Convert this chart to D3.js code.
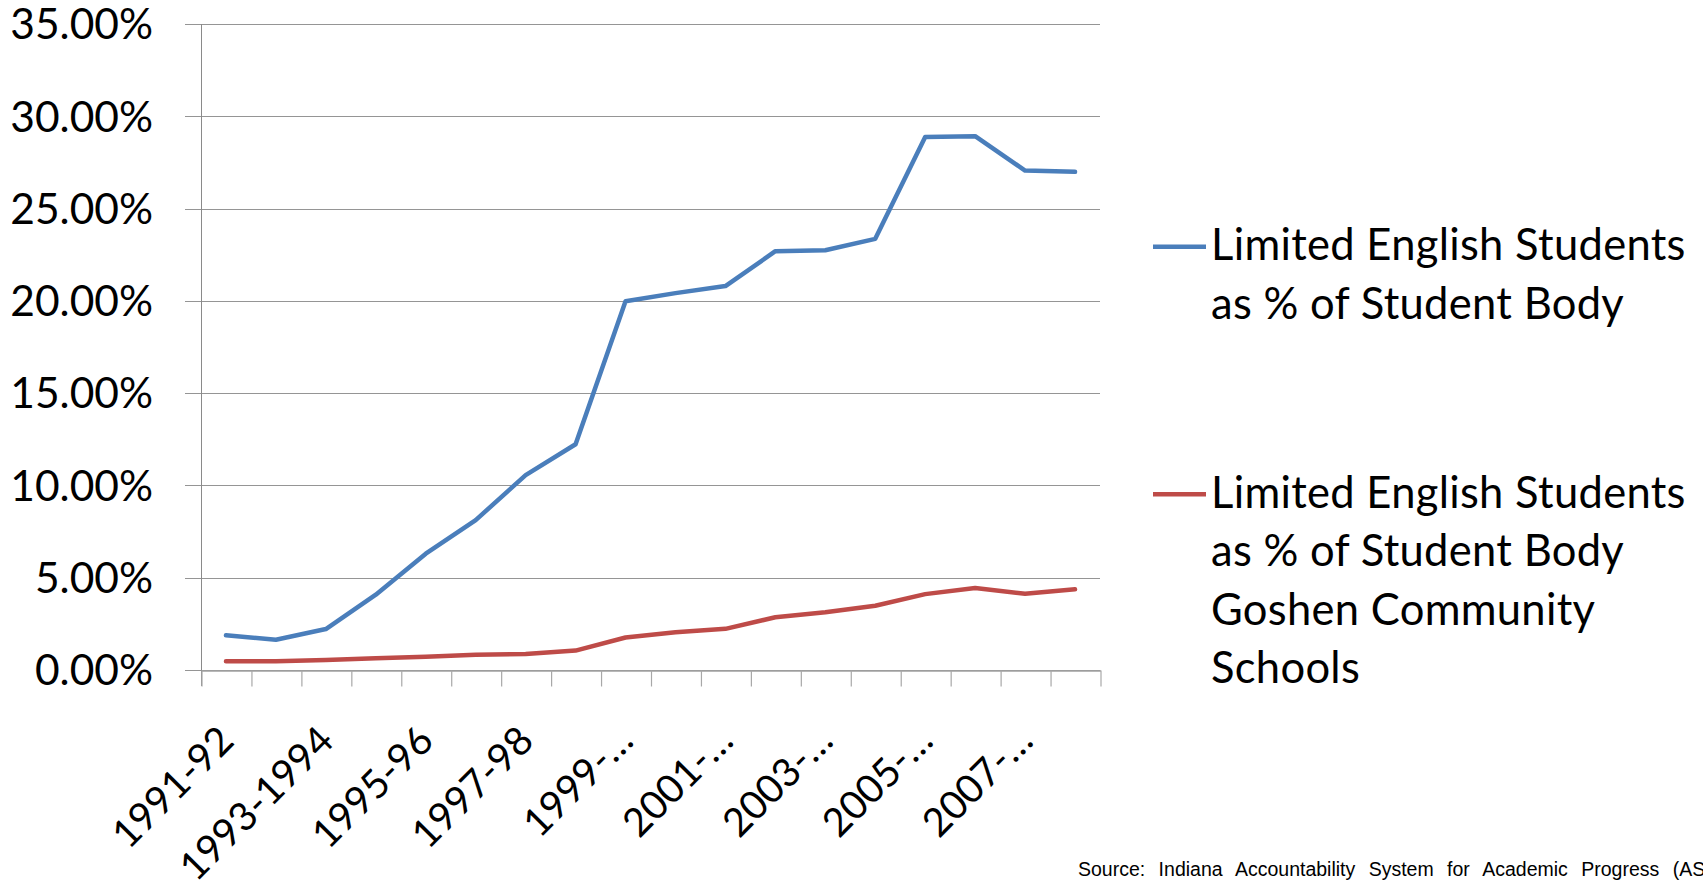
<!DOCTYPE html>
<html>
<head>
<meta charset="utf-8">
<script src="https://cdn.jsdelivr.net/npm/d3@7"></script>
<style>
  html, body { margin: 0; padding: 0; background: #ffffff; }
  svg { display: block; }
</style>
</head>
<body>
<script>
// ---------------- data ----------------
const categories = ["1991-92","1992-93","1993-1994","1994-95","1995-96","1996-97","1997-98","1998-99",
  "1999-2000","2000-01","2001-2002","2002-03","2003-2004","2004-05","2005-2006","2006-07","2007-2008","2008-09"];
const tickLabels = ["1991-92","","1993-1994","","1995-96","","1997-98","","1999-…","",
  "2001-…","","2003-…","","2005-…","","2007-…",""];
const blueValues = [1.88, 1.64, 2.22, 4.08, 6.30, 8.12, 10.56, 12.23, 19.98, 20.42,
  20.80, 22.69, 22.74, 23.36, 28.88, 28.92, 27.06, 26.99];
const redValues = [0.47, 0.47, 0.54, 0.63, 0.72, 0.83, 0.87, 1.05, 1.76, 2.05,
  2.23, 2.86, 3.13, 3.48, 4.11, 4.44, 4.13, 4.37];
const yTicks = [0, 5, 10, 15, 20, 25, 30, 35];
const seriesNames = [
  ["Limited English Students", "as % of Student Body"],
  ["Limited English Students", "as % of Student Body", "Goshen Community", "Schools"]
];
const seriesColors = ["#4a7ebb", "#be4b48"];
const sourceText = "Source: Indiana Accountability System for Academic Progress (ASAP)";

// ---------------- layout ----------------
const W = 1703, H = 892;
const pLeft = 201, pRight = 1100, pTop = 24, pBottom = 670;
const mainFont = "Lato, 'Open Sans', sans-serif";

const svg = d3.select("body").append("svg").attr("width", W).attr("height", H);
svg.append("rect").attr("width", W).attr("height", H).attr("fill", "#fff");

const x = d3.scaleBand().domain(categories).range([pLeft, pRight]).paddingInner(0).paddingOuter(0);
const xEdge = d3.scaleLinear().domain([0, categories.length]).range([pLeft, pRight]);
const y = d3.scaleLinear().domain([0, 35]).range([pBottom, pTop]);
const cx = c => x(c) + x.bandwidth() / 2;

// gridlines
svg.append("g").selectAll("line").data(yTicks).join("line")
  .attr("x1", pLeft - 16).attr("x2", pRight)
  .attr("y1", d => Math.round(y(d)) + 0.5).attr("y2", d => Math.round(y(d)) + 0.5)
  .attr("stroke", "#959595").attr("stroke-width", 1.2);

// y axis line
svg.append("line").attr("x1", pLeft + 0.5).attr("x2", pLeft + 0.5)
  .attr("y1", pTop).attr("y2", pBottom + 16)
  .attr("stroke", "#8a8a8a").attr("stroke-width", 1);

// x axis ticks at category boundaries
const xAxis = d3.axisBottom(xEdge).tickValues(d3.range(categories.length + 1))
  .tickSize(16).tickSizeOuter(0).tickFormat("");
const gx = svg.append("g").attr("transform", `translate(0.5,${Math.round(pBottom) + 0.5})`).call(xAxis);
gx.select(".domain").attr("stroke", "#a0a0a0").attr("stroke-width", 1.5);
gx.selectAll(".tick line").attr("stroke", "#a8a8a8").attr("stroke-width", 1.2);

// y labels
svg.append("g").selectAll("text").data(yTicks).join("text")
  .attr("x", 153).attr("y", d => y(d))
  .attr("dy", "0.36em")
  .attr("text-anchor", "end")
  .attr("font-family", mainFont).attr("font-size", 42.5).attr("fill", "#000")
  .text(d => d.toFixed(2) + "%");

// x labels (rotated)
svg.append("g").selectAll("text").data(categories.map((c, i) => ({c, label: tickLabels[i]})).filter(d => d.label))
  .join("text")
  .attr("transform", d => `translate(${cx(d.c) + 10},743) rotate(-45)`)
  .attr("text-anchor", "end")
  .attr("font-family", mainFont).attr("font-size", 39.5).attr("fill", "#000")
  .text(d => d.label);

// lines
const line = d3.line().x((d, i) => cx(categories[i])).y(d => y(d));
[blueValues, redValues].forEach((vals, k) => {
  svg.append("path").datum(vals).attr("d", line)
    .attr("fill", "none").attr("stroke", seriesColors[k]).attr("stroke-width", 4.5)
    .attr("stroke-linejoin", "round").attr("stroke-linecap", "round");
});

// legend
const legendY = [246.7, 494.3];
const lineGap = 58.3;
seriesNames.forEach((lines, k) => {
  const g = svg.append("g");
  g.append("line").attr("x1", 1153).attr("x2", 1206)
    .attr("y1", legendY[k]).attr("y2", legendY[k])
    .attr("stroke", seriesColors[k]).attr("stroke-width", 4.5);
  g.selectAll("text").data(lines).join("text")
    .attr("x", 1211).attr("y", (d, i) => legendY[k] + 13.6 + i * lineGap)
    .attr("font-family", mainFont).attr("font-size", 43.5).attr("letter-spacing", 0.3)
    .attr("fill", "#000")
    .text(d => d);
});

// source
svg.append("text").attr("x", 1078).attr("y", 876)
  .attr("font-family", "'Liberation Sans', Arial, sans-serif").attr("font-size", 19.5)
  .attr("word-spacing", 8).attr("fill", "#000")
  .text(sourceText);
</script>
</body>
</html>
